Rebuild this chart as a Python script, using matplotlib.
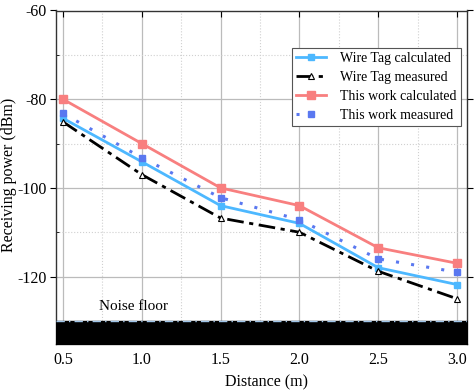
import matplotlib
matplotlib.use("Agg")
import matplotlib.pyplot as plt
from matplotlib.ticker import MultipleLocator

plt.rcParams['font.family'] = ['Liberation Serif', 'DejaVu Serif']
plt.rcParams['axes.unicode_minus'] = False

distance = [0.5, 1.0, 1.5, 2.0, 2.5, 3.0]
wire_calc = [-84.3, -94.1, -104.0, -108.0, -118.0, -121.8]
wire_meas = [-85.1, -97.0, -106.8, -110.0, -118.8, -125.0]
this_calc = [-80.0, -90.0, -100.0, -104.0, -113.5, -117.0]
this_meas = [-83.2, -93.2, -102.2, -107.2, -116.0, -119.0]
noise_top = -130
noise_bottom = -135

fig = plt.figure(figsize=(4.75, 3.92), dpi=100)
ax = fig.add_axes([56/475, 1-344/392, (467-56)/475, (344-10.5)/392])

ax.set_xlim(0.456, 3.063)
ax.set_ylim(-135.2, -60)

ax.xaxis.set_major_locator(MultipleLocator(0.5))
ax.xaxis.set_minor_locator(MultipleLocator(0.25))
ax.yaxis.set_major_locator(MultipleLocator(20))
ax.yaxis.set_minor_locator(MultipleLocator(10))
ax.grid(which='major', color='#bbbbbb', lw=0.9, ls='-')
ax.grid(which='minor', color='#d0d0d0', lw=0.8, ls=':')
ax.set_axisbelow(True)

ax.fill_between([0.456, 3.063], noise_bottom - 1, noise_top, color='black', zorder=3)
ax.plot([0.456, 3.063], [noise_top, noise_top], color='#9fc4e8', lw=1.0, ls=(0, (6, 3, 1, 3)), zorder=4)
ax.text(0.73, -127.6, 'Noise floor', fontsize=11, zorder=5)

ax.plot(distance, wire_calc, color='#4db8ff', lw=2, marker='s', ms=5, label='Wire Tag calculated', zorder=6)
ax.plot(distance, wire_meas, color='black', lw=2, ls=(0, (6, 2, 1.5, 2)), marker='^', ms=5,
        mfc='white', mec='black', mew=0.8, label='Wire Tag measured', zorder=6)
ax.plot(distance, this_calc, color='#f87f7f', lw=2, marker='s', ms=6, label='This work calculated', zorder=6)
ax.plot(distance, this_meas, color='#5a78f0', lw=2.2, ls=(0, (1, 4)), marker='s', ms=5,
        label='This work measured', zorder=6)

ax.tick_params(which='major', direction='out', length=4, labelsize=11.5, top=True, right=True)
ax.tick_params(which='major', axis='x', direction='in', pad=6)
ax.tick_params(which='minor', direction='in', length=2, left=True, bottom=False)
ax.tick_params(axis='y', which='major', right=True, pad=3)
for s in ax.spines.values():
    s.set_color('#333333')
    s.set_linewidth(1.0)

ax.set_xlabel('Distance (m)', fontsize=11.5)
ax.xaxis.set_label_coords(0.512, -0.09)
ax.set_ylabel('Receiving power (dBm)', fontsize=11.5)
ax.yaxis.set_label_coords(-0.095, 0.507)

leg = ax.legend(loc='upper right', bbox_to_anchor=(0.985, 0.888), borderaxespad=0, fontsize=10,
                frameon=True, fancybox=False, edgecolor='#555555', framealpha=1, handlelength=2.2,
                labelspacing=0.42, borderpad=0.3, handletextpad=1.0)
leg.get_frame().set_linewidth(0.8)

fig.savefig('out.png', dpi=100)
